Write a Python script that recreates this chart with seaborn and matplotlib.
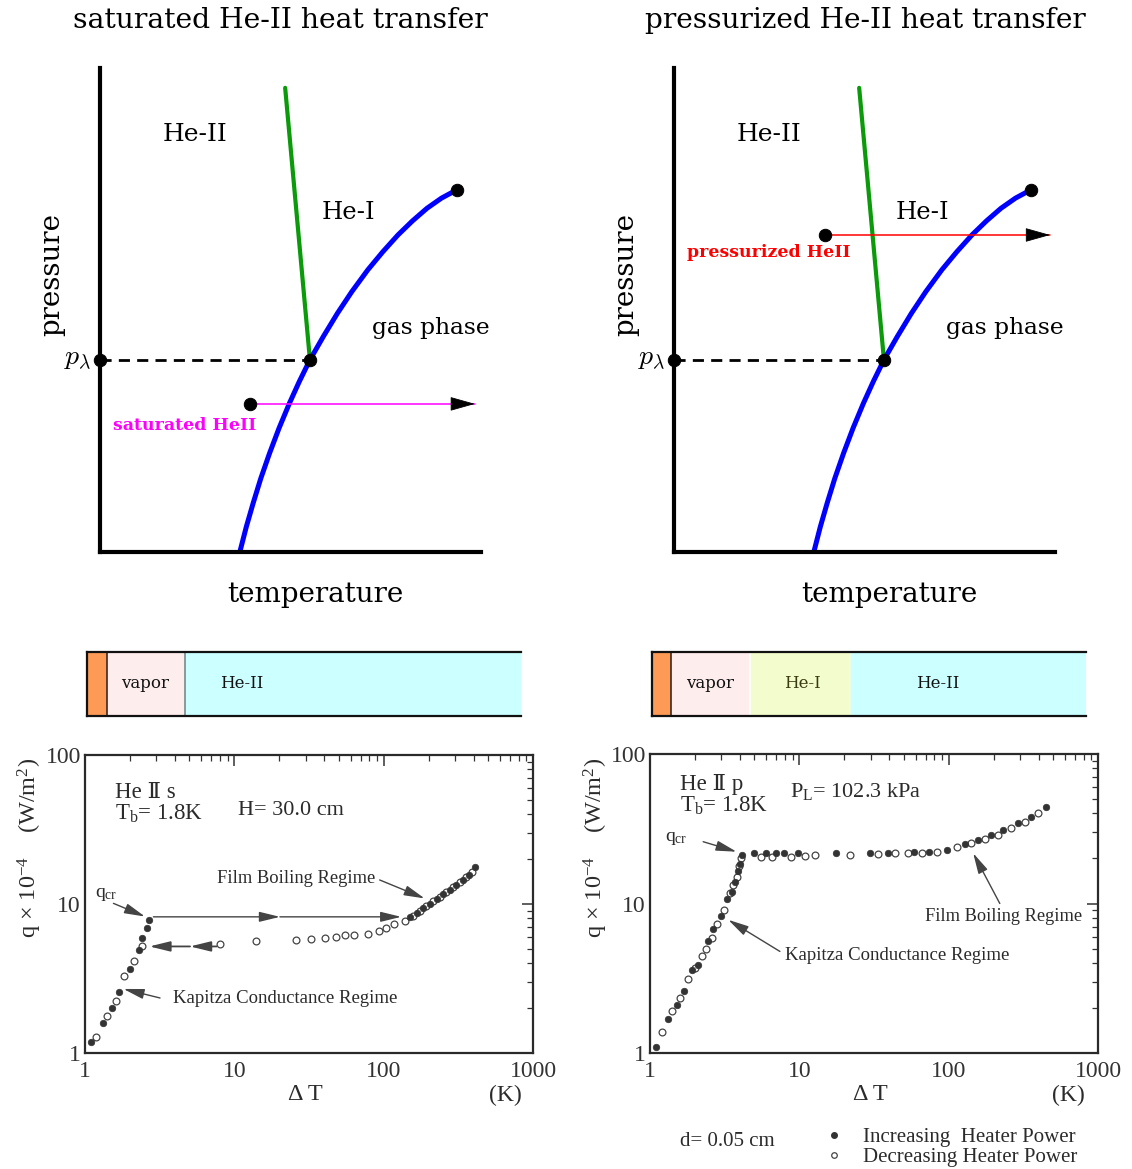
import numpy as np
import matplotlib
matplotlib.use("Agg")
import matplotlib.pyplot as plt
from matplotlib.ticker import LogLocator, FuncFormatter, NullFormatter
from matplotlib.lines import Line2D
import seaborn as sns

# ---------------- phase diagram (schematic units, 0..10 on both axes) ----------------
vap_T = [3.67, 3.84, 4.02, 4.22, 4.45, 4.70, 4.97, 5.23, 5.51, 5.86, 6.23, 6.61, 7.03,
         7.42, 7.82, 8.20, 8.58, 8.96, 9.36]
vap_p = [0.00, 0.52, 1.01, 1.52, 2.04, 2.56, 3.07, 3.52, 3.97, 4.45, 4.93, 5.38, 5.83,
         6.20, 6.55, 6.84, 7.10, 7.31, 7.48]
lam_T = [4.86, 5.51]
lam_p = [9.59, 3.97]
lambda_T, lambda_p = 5.51, 3.97
crit_T, crit_p = 9.36, 7.48
sat_path_T = [3.94, 9.84]
sat_path_p = 3.06
pres_path_T = [3.96, 9.87]
pres_path_p = 6.55

# ---------------- heater-side layer bars ----------------
sat_bar_widths = [20, 78, 336]
sat_bar_colors = ["#fd9a55", "#fdeded", "#ccffff"]
sat_bar_labels = ["", "vapor", "He-II"]
sat_bar_label_x = [10, 58, 155]
pres_bar_widths = [19, 79, 100, 236]
pres_bar_colors = ["#fd9a55", "#fdeded", "#f3fccc", "#ccffff"]
pres_bar_labels = ["", "vapor", "He-I", "He-II"]
pres_bar_label_x = [10, 58, 150, 286]

# ---------------- heat flux vs. temperature difference ----------------
sat_inc_dT = [1.10, 1.31, 1.51, 1.70, 2.00, 2.31, 2.42, 2.59, 2.69,
              150, 166, 184, 204, 226, 250, 277, 307, 340, 373, 407]
sat_inc_q = [1.18, 1.58, 2.00, 2.56, 3.66, 4.93, 5.93, 6.89, 7.83,
             8.12, 8.69, 9.38, 10.0, 10.8, 11.6, 12.4, 13.4, 14.5, 15.7, 17.8]
sat_dec_dT = [1.19, 1.40, 1.61, 1.83, 2.14, 2.39, 8.0, 13.9, 25.8, 32.5, 40.6, 48.3,
              55.5, 63.1, 79.1, 93.7, 103, 117, 138, 157, 175, 193, 214, 238, 263,
              292, 323, 358, 393]
sat_dec_q = [1.29, 1.78, 2.22, 3.27, 4.16, 5.19, 5.41, 5.61, 5.75, 5.84, 5.90, 5.99,
             6.15, 6.21, 6.31, 6.61, 6.85, 7.29, 7.64, 8.37, 9.03, 9.72, 10.4, 11.2,
             12.1, 13.0, 14.0, 15.1, 16.5]

pres_inc_dT = [1.10, 1.31, 1.51, 1.70, 1.90, 2.10, 2.46, 2.65, 2.99, 3.29, 3.52, 3.71,
               3.90, 4.00, 4.15, 4.96, 5.94, 6.93, 7.93, 9.84, 17.7, 29.7, 39.4, 58.7,
               73.6, 97.2, 128, 157, 193, 231, 292, 355, 447]
pres_inc_q = [1.10, 1.69, 2.08, 2.58, 3.61, 3.87, 5.57, 6.74, 8.19, 10.7, 12.0, 14.0,
              16.4, 18.4, 21.1, 21.6, 21.6, 21.6, 21.6, 21.8, 21.8, 21.8, 21.8, 22.1,
              22.2, 22.9, 24.9, 26.6, 28.8, 31.1, 34.4, 37.8, 44.0]
pres_dec_dT = [1.20, 1.41, 1.60, 1.81, 2.00, 2.22, 2.37, 2.59, 2.79, 3.14, 3.43, 3.61,
               3.80, 3.96, 4.06, 5.50, 6.59, 8.78, 10.9, 12.8, 21.8, 33.4, 44.0, 53.6,
               65.8, 83.3, 113, 142, 175, 214, 263, 323, 397]
pres_dec_q = [1.38, 1.90, 2.32, 3.12, 3.70, 4.43, 4.98, 5.86, 7.27, 8.98, 11.7, 13.3,
              15.1, 17.7, 20.1, 20.6, 20.6, 20.6, 20.8, 21.0, 21.1, 21.4, 21.7, 21.7,
              21.7, 22.2, 23.8, 25.3, 27.0, 28.8, 31.9, 35.3, 40.2]

# ---------------- styling ----------------
sns.set_style("white")
plt.rcParams["font.family"] = ["Liberation Serif", "DejaVu Serif"]
plt.rcParams["mathtext.fontset"] = "custom"
plt.rcParams["mathtext.rm"] = "Liberation Serif"
plt.rcParams["mathtext.it"] = "Liberation Serif:italic"
plt.rcParams["mathtext.bf"] = "Liberation Serif:bold"

W, H = 1132, 1169
fig = plt.figure(figsize=(W / 100, H / 100), dpi=100)


def rect(l, t, r, b):
    return [l / W, 1 - b / H, (r - l) / W, (b - t) / H]


SERIF = ["DejaVu Serif"]
INK = "#2b2b2b"


def phase_panel(ax, path_T, path_p, path_color, path_label, label_T, label_p):
    sns.lineplot(x=[0, lambda_T], y=[lambda_p, lambda_p], ax=ax, color="black", lw=2,
                 linestyle=(0, (4, 2.6)), sort=False, estimator=None)
    sns.lineplot(x=lam_T, y=lam_p, ax=ax, color="#0a9a0a", lw=3, sort=False, estimator=None)
    line = sns.lineplot(x=vap_T, y=vap_p, ax=ax, color="#0000ff", lw=3.6, sort=False,
                        estimator=None)
    line.lines[-1].set_solid_joinstyle("round")
    sns.lineplot(x=path_T, y=[path_p, path_p], ax=ax, color=path_color, lw=1.1,
                 sort=False, estimator=None)
    ax.annotate("", xy=(path_T[1], path_p), xytext=(path_T[1] - 0.6, path_p),
                arrowprops=dict(arrowstyle="-|>,head_length=1.6,head_width=0.45",
                                mutation_scale=10, color="black", lw=0.6,
                                shrinkA=0, shrinkB=0))
    sns.scatterplot(x=[0, lambda_T, crit_T, path_T[0]],
                    y=[lambda_p, lambda_p, crit_p, path_p],
                    ax=ax, s=80, color="black", edgecolor="black", clip_on=False, zorder=6)
    ax.set_xlim(0, 10)
    ax.set_ylim(0, 10)
    ax.set_xticks([])
    ax.set_yticks([])
    ax.set_xlabel("")
    ax.set_ylabel("")
    for side in ("top", "right"):
        ax.spines[side].set_visible(False)
    for side in ("left", "bottom"):
        ax.spines[side].set_linewidth(3)
        ax.spines[side].set_color("black")
    ax.text(2.49, 8.62, "He-II", family=SERIF, fontsize=18, ha="center", va="center",
            color="black")
    ax.text(6.51, 7.02, "He-I", family=SERIF, fontsize=17.5, ha="center", va="center",
            color="black")
    ax.text(8.69, 4.63, "gas phase", family=SERIF, fontsize=16.8, ha="center", va="center",
            color="black")
    ax.text(label_T, label_p, path_label, family=SERIF, fontsize=12.5, fontweight="bold",
            color=path_color, ha="center", va="center")
    ax.text(-0.22, lambda_p, r"$p_\lambda$", math_fontfamily="cm", fontsize=20,
            ha="right", va="center", color="black")


ax1 = fig.add_axes(rect(100, 68, 481, 552))
phase_panel(ax1, sat_path_T, sat_path_p, "#ff00ff", "saturated HeII", 2.23, 2.62)
ax2 = fig.add_axes(rect(674, 68, 1055, 552))
phase_panel(ax2, pres_path_T, pres_path_p, "#ff0000", "pressurized HeII", 2.49, 6.18)

fig.text(280 / W, 1 - 20 / H, "saturated He-II heat transfer", family=SERIF, fontsize=20.3,
         ha="center", va="center", color="black")
fig.text(865 / W, 1 - 20 / H, "pressurized He-II heat transfer", family=SERIF, fontsize=20.2,
         ha="center", va="center", color="black")
for xc in (52, 626):
    fig.text(xc / W, 1 - 275 / H, "pressure", family=SERIF, fontsize=20, rotation=90,
             ha="center", va="center", color="black")
for xc in (315, 889):
    fig.text(xc / W, 1 - 594 / H, "temperature", family=SERIF, fontsize=20,
             ha="center", va="center", color="black")


def layer_bar(ax, widths, colors, labels, label_x, divider_colors):
    left = np.concatenate([[0], np.cumsum(widths)[:-1]])
    ax.barh(0, widths, left=left, color=colors, height=1, linewidth=0)
    for x, c in zip(left[1:], divider_colors):
        ax.axvline(x, color=c, lw=1.2)
    for lab, x in zip(labels, label_x):
        if lab:
            col = "#3a3a10" if lab == "He-I" else "#111111"
            ax.text(x, 0, lab, family=SERIF, fontsize=12, ha="center", va="center", color=col)
    ax.set_xlim(0, sum(widths))
    ax.set_ylim(-0.5, 0.5)
    ax.set_xticks([])
    ax.set_yticks([])
    ax.spines["right"].set_visible(False)
    for side in ("top", "bottom", "left"):
        ax.spines[side].set_linewidth(1.6)
        ax.spines[side].set_color("#111111")


bar1 = fig.add_axes(rect(87, 652, 521, 716))
layer_bar(bar1, sat_bar_widths, sat_bar_colors, sat_bar_labels, sat_bar_label_x,
          ["#3a2a20", "#7a8a8a"])
bar2 = fig.add_axes(rect(652, 652, 1086, 716))
layer_bar(bar2, pres_bar_widths, pres_bar_colors, pres_bar_labels, pres_bar_label_x,
          ["#3a2a20", "#ffffff", "#f0fce0"])


def boiling_panel(ax, inc_dT, inc_q, dec_dT, dec_q):
    sns.scatterplot(x=dec_dT, y=dec_q, ax=ax, marker="o", s=24, color="white",
                    edgecolor="#444444", linewidth=0.9, zorder=3)
    sns.scatterplot(x=inc_dT, y=inc_q, ax=ax, marker="o", s=22, color="#333333",
                    edgecolor="#333333", linewidth=0.5, zorder=4)
    ax.set_xscale("log")
    ax.set_yscale("log")
    ax.set_xlim(1, 1000)
    ax.set_ylim(1, 100)
    for axis in (ax.xaxis, ax.yaxis):
        axis.set_major_locator(LogLocator(base=10))
        axis.set_minor_locator(LogLocator(base=10, subs=np.arange(2, 10)))
        axis.set_major_formatter(FuncFormatter(lambda v, _: f"{v:g}"))
        axis.set_minor_formatter(NullFormatter())
    ax.tick_params(which="both", direction="in", top=True, right=True, color="#333333",
                   labelcolor="#333333", labelsize=17)
    ax.tick_params(which="major", length=8, width=1.1)
    ax.tick_params(axis="x", which="major", pad=6)
    ax.tick_params(axis="y", which="major", pad=3)
    ax.tick_params(which="minor", length=4, width=0.9)
    for s in ax.spines.values():
        s.set_linewidth(1.6)
        s.set_color("#2a2a2a")
    ax.set_xlabel("")
    ax.set_ylabel("")


def arrow(ax, start, end, lw=1.0):
    ax.annotate("", xy=end, xytext=start,
                arrowprops=dict(arrowstyle="-|>,head_length=0.9,head_width=0.22",
                                mutation_scale=14, color="#444444", lw=lw,
                                shrinkA=0, shrinkB=0))


ax3 = fig.add_axes(rect(85, 755, 533, 1053))
boiling_panel(ax3, sat_inc_dT, sat_inc_q, sat_dec_dT, sat_dec_q)
ax3.text(1.59, 51.2, "He Ⅱ s", fontsize=16.5, color=INK, family=["Liberation Serif", "DejaVu Serif"])
ax3.text(1.59, 36.6, r"T$_\mathrm{b}$= 1.8K", fontsize=16.5, color=INK)
ax3.text(10.6, 39.6, "H= 30.0 cm", fontsize=16, color=INK)
ax3.text(1.17, 11.2, r"q$_\mathrm{cr}$", fontsize=14, color=INK)
ax3.text(7.6, 13.8, "Film Boiling Regime", fontsize=13.3, color=INK)
ax3.text(3.9, 2.16, "Kapitza Conductance Regime", fontsize=13.5, color=INK)
arrow(ax3, (1.55, 10.1), (2.52, 8.24))
arrow(ax3, (94, 14.5), (188, 10.9))
arrow(ax3, (3.18, 2.34), (1.81, 2.69))
arrow(ax3, (2.87, 8.2), (20.2, 8.2))
arrow(ax3, (20.2, 8.2), (131, 8.2))
arrow(ax3, (7.6, 5.19), (5.05, 5.19), lw=1.3)
arrow(ax3, (5.05, 5.19), (2.7, 5.19), lw=1.3)

ax4 = fig.add_axes(rect(650, 754, 1098, 1053))
boiling_panel(ax4, pres_inc_dT, pres_inc_q, pres_dec_dT, pres_dec_q)
ax4.text(1.59, 57.4, "He Ⅱ p", fontsize=16.5, color=INK, family=["Liberation Serif", "DejaVu Serif"])
ax4.text(1.59, 41.2, r"T$_\mathrm{b}$= 1.8K", fontsize=16.5, color=INK)
ax4.text(8.65, 51.9, r"P$_\mathrm{L}$= 102.3 kPa", fontsize=16, color=INK)
ax4.text(1.26, 26.0, r"q$_\mathrm{cr}$", fontsize=14, color=INK)
ax4.text(69.2, 7.59, "Film Boiling Regime", fontsize=13.2, color=INK)
ax4.text(8.0, 4.16, "Kapitza Conductance Regime", fontsize=13.5, color=INK)
arrow(ax4, (2.27, 25.9), (3.80, 22.2))
arrow(ax4, (220, 10.0), (146, 21.7))
arrow(ax4, (7.41, 4.78), (3.34, 7.78))

for xc in (30, 596):
    fig.text(xc / W, 1 - 848 / H, r"q $\times$ 10$^{-4}$    (W/m$^{2}$)", fontsize=17.5,
             rotation=90, ha="center", va="center", color=INK)
for xc, xk in ((305, 505), (870, 1068)):
    fig.text(xc / W, 1 - 1095 / H, "Δ T", fontsize=17.5, ha="center", va="center", color=INK)
    fig.text(xk / W, 1 - 1095 / H, "(K)", fontsize=17, ha="center", va="center", color=INK)

fig.text(680 / W, 1 - 1142 / H, "d= 0.05 cm", fontsize=15, ha="left", va="center", color=INK)
handles = [Line2D([], [], ls="", marker="o", ms=4, mfc="#333333", mec="#333333"),
           Line2D([], [], ls="", marker="o", ms=4, mfc="white", mec="#444444", mew=0.9)]
ax4.legend(handles, ["Increasing  Heater Power", "Decreasing Heater Power"],
           loc="upper left", bbox_to_anchor=(813 / W, 1 - 1117 / H), bbox_transform=fig.transFigure,
           frameon=False, fontsize=15, handlelength=1.0, handletextpad=0.9, labelspacing=0.02,
           borderpad=0, labelcolor=INK)

fig.savefig("out.png", dpi=100)
